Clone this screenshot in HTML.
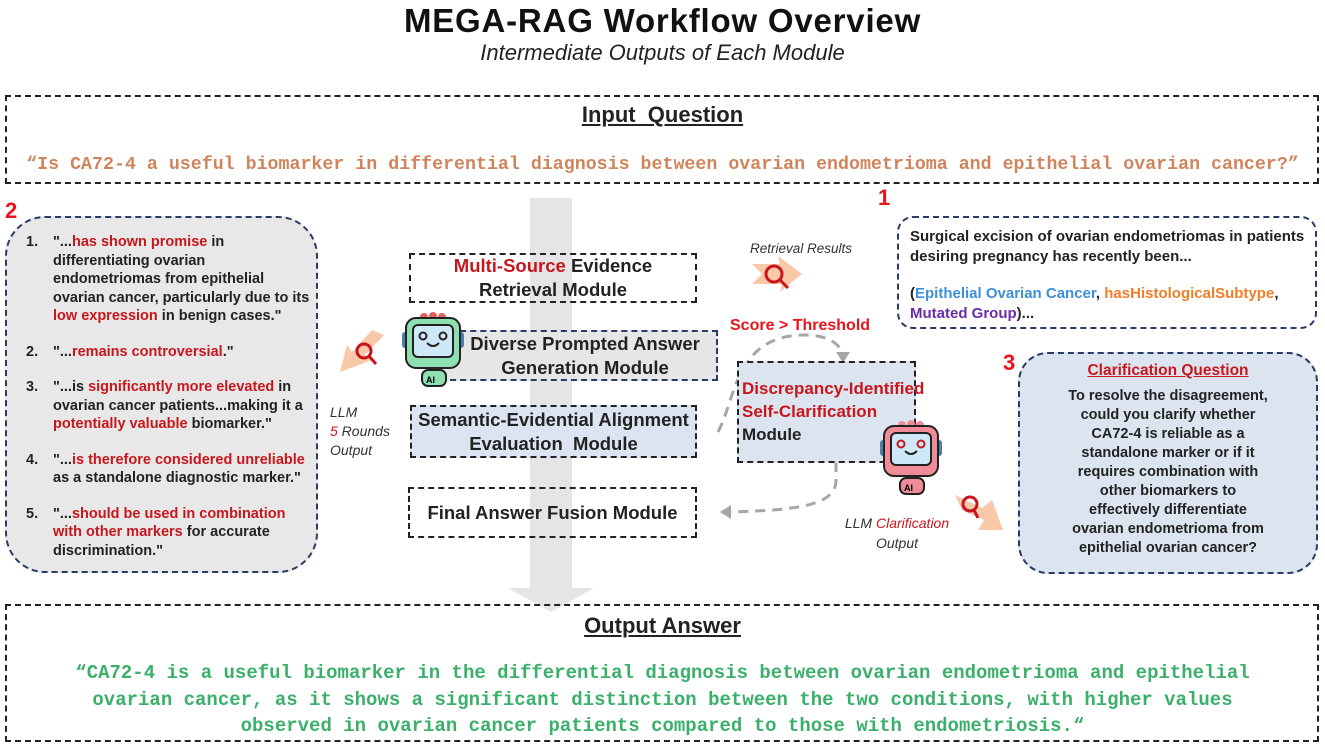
<!DOCTYPE html>
<html><head><meta charset="utf-8"><style>
*{margin:0;padding:0;box-sizing:border-box}
body{width:1325px;height:747px;position:relative;background:#fff;font-family:"Liberation Sans",sans-serif;color:#1a1a1a;overflow:hidden}
.a{position:absolute}
.box{position:absolute;border:2px dashed #222}
.r{color:#c8161d}
.mono{font-family:"Liberation Mono",monospace;font-weight:bold}
.c{text-align:center}
.num{font-weight:bold;font-size:22px;color:#e8141b}
.mod{display:flex;align-items:center;justify-content:center;text-align:center;font-size:18.5px;line-height:24px;font-weight:bold;color:#222}
</style></head><body>
<svg class="a" style="left:0;top:0" width="1325" height="747">
<polygon points="530,198 572,198 572,588 594,588 551,612 508,588 530,588" fill="#e5e5e5"/>
<path d="M718,432 C735,400 735,345 790,336 C820,332 840,340 843,356" fill="none" stroke="#a6a6a6" stroke-width="3" stroke-dasharray="10,7"/>
<polygon points="836,352 850,352 843,363" fill="#a6a6a6"/>
<path d="M836,462 L836,480 C836,505 800,510 730,512" fill="none" stroke="#a6a6a6" stroke-width="3" stroke-dasharray="10,7"/>
<polygon points="720,512 731,505 731,519" fill="#a6a6a6"/>
<polygon points="752,264 780,264 778,256 802,274 780,292 782,284 752,284 762,274" fill="#f8c8a8"/>
<circle cx="774" cy="274" r="8" fill="none" stroke="#c8161d" stroke-width="3"/><line x1="780" y1="280" x2="788" y2="288" stroke="#c8161d" stroke-width="3"/>
<polygon points="384,335 365,355 372,360 340,372 347,345 352,352 372,330" fill="#f8c8a8"/>
<circle cx="364" cy="351" r="7" fill="none" stroke="#c8161d" stroke-width="3"/><line x1="369" y1="356" x2="376" y2="364" stroke="#c8161d" stroke-width="3"/>
<polygon points="955,495 982,508 992,500 1003,530 978,530 984,520 962,510" fill="#f8c8a8"/>
<circle cx="970" cy="504" r="7" fill="none" stroke="#c8161d" stroke-width="3"/><line x1="974" y1="510" x2="978" y2="518" stroke="#c8161d" stroke-width="3"/>
</svg>

<div class="a c" style="left:0;top:2px;width:1325px;font-size:33px;color:#111;font-weight:bold;letter-spacing:0.8px">MEGA-RAG Workflow Overview</div>
<div class="a c" style="left:0;top:40px;width:1325px;font-size:22px;font-style:italic;color:#222">Intermediate Outputs of Each Module</div>

<div class="box" style="left:5px;top:95px;width:1314px;height:89px"></div>
<div class="a c" style="left:0;top:102px;width:1325px;font-size:22px;text-decoration:underline;font-weight:bold;color:#222">Input&nbsp; Question</div>
<div class="a c mono" style="left:0;top:155px;width:1325px;font-size:18.3px;color:#d0845c;white-space:nowrap">“Is CA72-4 a useful biomarker in differential diagnosis between ovarian endometrioma and epithelial ovarian cancer?”</div>

<div class="a num" style="left:5px;top:198px">2</div>
<div class="a" style="left:5px;top:216px;width:313px;height:357px;border:2px dashed #2b3a66;border-radius:40px;background:#e8e8e8"></div>
<div class="a" style="left:26px;top:233px;width:290px;font-size:14.5px;line-height:18.5px;font-weight:bold;color:#222">
<div style="display:flex"><span style="width:27px">1.</span><span style="width:260px">"...<span class="r">has shown promise</span> in differentiating ovarian endometriomas from epithelial ovarian cancer, particularly due to its <span class="r">low expression</span> in benign cases."</span></div>
<div style="display:flex;margin-top:17px"><span style="width:27px">2.</span><span>"...<span class="r">remains controversial</span>."</span></div>
<div style="display:flex;margin-top:17px"><span style="width:27px">3.</span><span style="width:260px">"...is <span class="r">significantly more elevated</span> in ovarian cancer patients...making it a <span class="r">potentially valuable</span> biomarker."</span></div>
<div style="display:flex;margin-top:17px"><span style="width:27px">4.</span><span style="width:260px">"...<span class="r">is therefore considered unreliable</span> as a standalone diagnostic marker."</span></div>
<div style="display:flex;margin-top:17px"><span style="width:27px">5.</span><span style="width:260px">"...<span class="r">should be used in combination with other markers</span> for accurate discrimination."</span></div>
</div>
<div class="a" style="left:330px;top:403px;font-size:14px;line-height:19px;font-style:italic;color:#333">LLM<br><span class="r">5</span> Rounds<br>Output</div>

<div class="box mod" style="left:409px;top:253px;width:288px;height:50px"><div><span class="r">Multi-Source</span> Evidence<br>Retrieval Module</div></div>
<div class="box mod" style="left:440px;top:330px;width:278px;height:51px;background:#e6e6e6;border-color:#2b3a66"><div style="padding-left:12px">Diverse Prompted Answer<br>Generation Module</div></div>
<div class="box mod" style="left:410px;top:405px;width:287px;height:53px;background:#dce4f1"><div>Semantic-Evidential Alignment<br>Evaluation&nbsp; Module</div></div>
<div class="box mod" style="left:408px;top:487px;width:289px;height:51px"><div>Final Answer Fusion Module</div></div>
<div class="box" style="left:737px;top:361px;width:179px;height:102px;background:#dce4f0"></div>
<div class="a" style="left:742px;top:377px;font-size:17px;line-height:23px;font-weight:bold;color:#222"><span class="r">Discrepancy-Identified<br>Self-Clarification</span><br>Module</div>
<div class="a" style="left:730px;top:317px;font-size:16px;font-weight:bold;color:#e8141b">Score &gt; Threshold</div>
<div class="a" style="left:750px;top:241px;font-size:13.5px;font-style:italic;color:#333">Retrieval Results</div>

<svg class="a" style="left:402px;top:312px" width="62" height="75">
<rect x="20" y="58" width="24" height="16" rx="6" fill="#8ee0b0" stroke="#222" stroke-width="2"/>
<text x="24" y="71" font-size="9" font-weight="bold" font-family="Liberation Sans">AI</text>
<rect x="0" y="20" width="6" height="16" rx="3" fill="#4a7fb0"/><rect x="56" y="20" width="6" height="16" rx="3" fill="#4a7fb0"/>
<circle cx="22" cy="5" r="4" fill="#e46060"/><circle cx="31" cy="4" r="4" fill="#e46060"/><circle cx="40" cy="5" r="4" fill="#e46060"/>
<rect x="4" y="6" width="54" height="50" rx="10" fill="#8ee0b0" stroke="#222" stroke-width="2"/>
<rect x="11" y="13" width="40" height="32" rx="5" fill="#cfe8f8" stroke="#222" stroke-width="2"/>
<circle cx="21" cy="24" r="3.5" fill="none" stroke="#222" stroke-width="2"/><circle cx="41" cy="24" r="3.5" fill="none" stroke="#222" stroke-width="2"/>
<path d="M25,31 q6,6 12,0" fill="none" stroke="#222" stroke-width="2"/>
</svg>
<svg class="a" style="left:880px;top:420px" width="62" height="75">
<rect x="20" y="58" width="24" height="16" rx="6" fill="#f08c98" stroke="#222" stroke-width="2"/>
<text x="24" y="71" font-size="9" font-weight="bold" font-family="Liberation Sans">AI</text>
<rect x="0" y="20" width="6" height="16" rx="3" fill="#4a7fb0"/><rect x="56" y="20" width="6" height="16" rx="3" fill="#4a7fb0"/>
<circle cx="22" cy="5" r="4" fill="#f08c98"/><circle cx="31" cy="4" r="4" fill="#f08c98"/><circle cx="40" cy="5" r="4" fill="#f08c98"/>
<rect x="4" y="6" width="54" height="50" rx="10" fill="#f08c98" stroke="#222" stroke-width="2"/>
<rect x="11" y="13" width="40" height="32" rx="5" fill="#cfe8f8" stroke="#222" stroke-width="2"/>
<circle cx="21" cy="24" r="3.5" fill="none" stroke="#c8161d" stroke-width="2"/><circle cx="41" cy="24" r="3.5" fill="none" stroke="#c8161d" stroke-width="2"/>
<path d="M25,31 q6,6 12,0" fill="none" stroke="#222" stroke-width="2"/>
</svg>
<div class="a c" style="left:832px;top:513px;width:130px;font-size:14px;line-height:20px;font-style:italic;color:#333">LLM <span class="r">Clarification</span><br>Output</div>

<div class="a num" style="left:878px;top:185px">1</div>
<div class="a" style="left:897px;top:216px;width:420px;height:113px;border:2px dashed #2b3a66;border-radius:16px"></div>
<div class="a" style="left:910px;top:227px;width:405px;font-size:15px;line-height:20px;font-weight:bold;color:#222">Surgical excision of ovarian endometriomas in patients desiring pregnancy has recently been...<br><div style="height:17px"></div>(<span style="color:#3d8fd6">Epithelial Ovarian Cancer</span>, <span style="color:#f07d28">hasHistologicalSubtype</span>,<br><span style="color:#6a2ca8">Mutated Group</span>)...</div>

<div class="a num" style="left:1003px;top:350px">3</div>
<div class="a" style="left:1018px;top:352px;width:300px;height:222px;border:2px dashed #2b3a66;border-radius:30px;background:#dce4f0"></div>
<div class="a c" style="left:1018px;top:362px;width:300px;font-size:15.5px;font-weight:bold;color:#c8161d;text-decoration:underline">Clarification Question</div>
<div class="a c" style="left:1025px;top:387px;width:286px;font-size:14.5px;line-height:19px;font-weight:bold;color:#222">To resolve the disagreement,<br>could you clarify whether<br>CA72-4 is reliable as a<br>standalone marker or if it<br>requires combination with<br>other biomarkers to<br>effectively differentiate<br>ovarian endometrioma from<br>epithelial ovarian cancer?</div>

<div class="box" style="left:5px;top:604px;width:1314px;height:138px"></div>
<div class="a c" style="left:0;top:613px;width:1325px;font-size:22px;text-decoration:underline;font-weight:bold;color:#222">Output Answer</div>
<div class="a c mono" style="left:0;top:660px;width:1325px;font-size:19px;line-height:26.5px;color:#3bb06a">“CA72-4 is a useful biomarker in the differential diagnosis between ovarian endometrioma and epithelial<br>ovarian cancer, as it shows a significant distinction between the two conditions, with higher values<br>observed in ovarian cancer patients compared to those with endometriosis.“</div>
</body></html>
